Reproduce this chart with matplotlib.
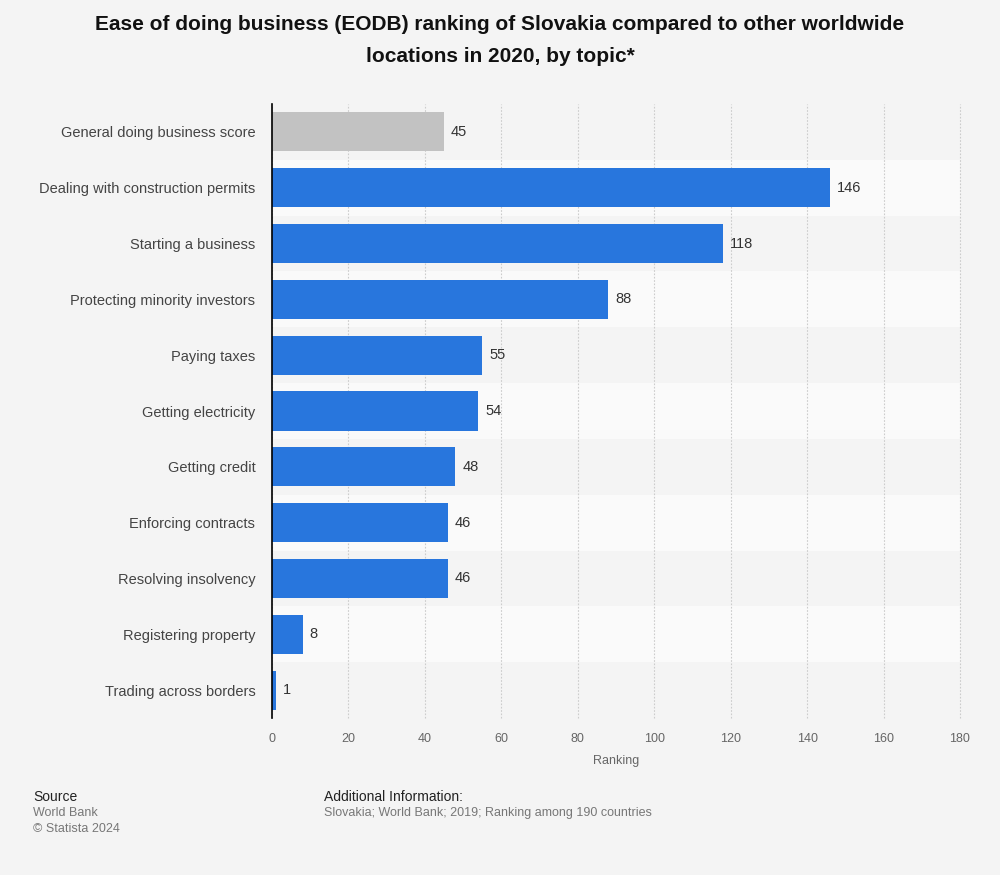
import matplotlib.pyplot as plt

plt.rcParams['font.family'] = ['Liberation Sans', 'DejaVu Sans']

# data
topics = [
    "General doing business score",
    "Dealing with construction permits",
    "Starting a business",
    "Protecting minority investors",
    "Paying taxes",
    "Getting electricity",
    "Getting credit",
    "Enforcing contracts",
    "Resolving insolvency",
    "Registering property",
    "Trading across borders",
]
ranking = [45, 146, 118, 88, 55, 54, 48, 46, 46, 8, 1]
x_ticks = [0, 20, 40, 60, 80, 100, 120, 140, 160, 180]

bg = '#f4f4f4'
blue = '#2876dd'
grey = '#c2c2c2'

fig = plt.figure(figsize=(10, 8.75), dpi=100, facecolor=bg)
ax = fig.add_axes([0.272, 1 - 718 / 875, 0.688, 614 / 875])
ax.set_facecolor(bg)

ypos = list(range(len(topics)))
colors = [grey] + [blue] * (len(topics) - 1)

# alternating row bands
for i in ypos:
    if i % 2 == 1:
        ax.axhspan(i - 0.5, i + 0.5, color='#fafafa', zorder=0, lw=0)

ax.barh(ypos, ranking, height=0.7, color=colors, zorder=3)

for y, v in zip(ypos, ranking):
    ax.text(v + 1.8, y, str(v), va='center', ha='left', fontsize=10.5, color='#333333', zorder=4)

ax.set_ylim(len(topics) - 0.5, -0.5)
ax.set_xlim(0, 180)
ax.set_yticks(ypos)
ax.set_yticklabels(topics, fontsize=10.5, color='#444444')
ax.set_xticks(x_ticks)
ax.set_xticklabels([str(t) for t in x_ticks], fontsize=9, color='#666666')
ax.tick_params(axis='both', length=0)
ax.tick_params(axis='y', pad=12)
ax.tick_params(axis='x', pad=11)

ax.grid(axis='x', color='#cccccc', linestyle=(0, (1.5, 1.5)), linewidth=0.8, zorder=1)
for gl in ax.get_xgridlines():
    gl.set_clip_on(False)
ax.set_axisbelow(True)
for s in ['top', 'right', 'bottom']:
    ax.spines[s].set_visible(False)
ax.spines['left'].set_color('#000000')
ax.spines['left'].set_linewidth(1.2)
ax.spines['left'].set_zorder(5)

ax.set_xlabel("Ranking", fontsize=9, color='#666666', labelpad=7)

fig.text(0.5, 1 - 15 / 875, "Ease of doing business (EODB) ranking of Slovakia compared to other worldwide\nlocations in 2020, by topic*",
         ha='center', va='top', fontsize=15, fontweight='bold', color='#111111', linespacing=1.85)

fig.text(0.033, 1 - 797 / 875, "Source", fontsize=10, color='#222222', va='center')
fig.text(0.033, 1 - 813 / 875, "World Bank", fontsize=9, color='#777777', va='center')
fig.text(0.033, 1 - 829 / 875, "\u00a9 Statista 2024", fontsize=9, color='#777777', va='center')
fig.text(0.324, 1 - 797 / 875, "Additional Information:", fontsize=10, color='#222222', va='center')
fig.text(0.324, 1 - 813 / 875, "Slovakia; World Bank; 2019; Ranking among 190 countries", fontsize=9, color='#777777', va='center')

fig.savefig('out.png', dpi=100, facecolor=bg)
